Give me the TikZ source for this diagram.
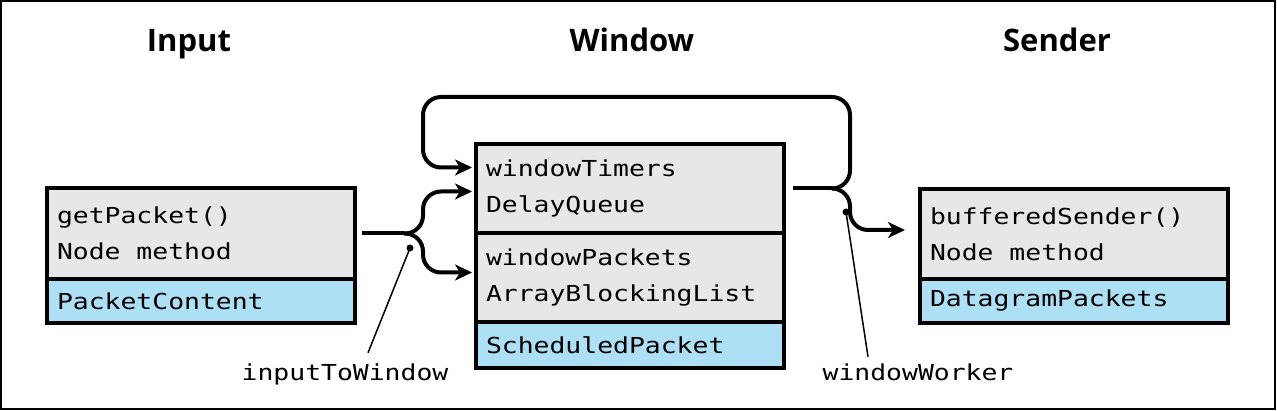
\documentclass[tikz,border=0pt]{standalone}
\usepackage{fontspec}
\usepackage{tikz}
\usetikzlibrary{positioning,arrows.meta,calc}
\newfontfamily\headfont{Open Sans}
\newfontfamily\codefont{DejaVu Sans Mono}[FakeStretch=1.2]
\newcommand{\codegap}{\hspace*{15.9pt}}
\definecolor{partgray}{RGB}{230,231,232}
\definecolor{partblue}{RGB}{173,223,245}

\begin{document}
\begin{tikzpicture}[x=1pt, y=-1pt, >={Stealth[length=17pt,width=16pt,inset=5pt]},
    part/.style={draw, line width=3.5pt, outer sep=0pt, inner xsep=10pt, inner ysep=0pt,
      text width=288pt, align=left, font={\codefont\fontsize{22pt}{36pt}\selectfont}},
    methpart/.style={part, fill=partgray},
    datapart/.style={part, fill=partblue},
    heading/.style={anchor=base, font={\headfont\bfseries\fontsize{31pt}{36pt}\selectfont}},
    tag/.style={anchor=base, font={\codefont\fontsize{22pt}{26pt}\selectfont}},
    conn/.style={line width=4pt, rounded corners=18pt},
    pointer/.style={line width=1.5pt}]
  \useasboundingbox (0,0) rectangle (1277,411);
  \draw[line width=2pt] (1,1) rectangle (1275,409);

  % columns
  \node[heading] (inputhead) at (189,52) {Input};
  \node[heading] (windowhead) at (632,52) {Window};
  \node[heading] (senderhead) at (1057,52) {Sender};

  \node[methpart, minimum height=91pt, anchor=north west] (getpacket) at (47,188) {getPacket()\\Node\codegap method};
  \node[datapart, minimum height=44pt, below=0pt of getpacket] (packetcontent) {PacketContent};

  \node[methpart, minimum height=89pt, anchor=north west] (timers) at (476,144) {windowTimers\\DelayQueue};
  \node[methpart, minimum height=89pt, below=0pt of timers] (packets) {windowPackets\\ArrayBlockingList};
  \node[datapart, minimum height=46pt, below=0pt of packets] (scheduled) {ScheduledPacket};

  \node[methpart, minimum height=90pt, anchor=north west] (sender) at (920,189) {bufferedSender()\\Node\codegap method};
  \node[datapart, minimum height=44pt, below=0pt of sender] (datagram) {DatagramPackets};

  % inputToWindow
  \coordinate (itwsplit) at ($(getpacket.east)+(49,0)$);
  \draw[conn] ($(getpacket.east)+(7,0)$) -- (itwsplit);
  \draw[conn, ->] (itwsplit) -| ($(timers.west)+(-53,3)$) -- ($(timers.west)+(-4,3)$);
  \draw[conn, ->] (itwsplit) -| ($(packets.west)+(-53,-5)$) -- ($(packets.west)+(-4,-5)$);

  % windowWorker
  \coordinate (wwsplit) at ($(timers.east)+(49,0)$);
  \draw[conn] ($(timers.east)+(9,0)$) -- (wwsplit);
  \draw[conn, ->] (wwsplit) -| (850,97) -| ($(timers.west)+(-53,-21)$) -- ($(timers.west)+(-4,-21)$);
  \draw[conn, ->] (wwsplit) -| ($(sender.west)+(-70,-4)$) -- ($(sender.west)+(-15,-4)$);

  % labels
  \node[tag] (itwlabel) at (345,381) {inputToWindow};
  \node[tag] (wwlabel) at (918,381) {windowWorker};
  \coordinate (itwdot) at (410,248);
  \coordinate (wwdot) at (846,212);
  \fill (itwdot) circle (3.5pt);
  \fill (wwdot) circle (3.5pt);
  \draw[pointer] ($(itwlabel.north)+(23,-8)$) -- (itwdot);
  \draw[pointer] ($(wwlabel.north)+(-50,-4)$) -- (wwdot);
\end{tikzpicture}
\end{document}
